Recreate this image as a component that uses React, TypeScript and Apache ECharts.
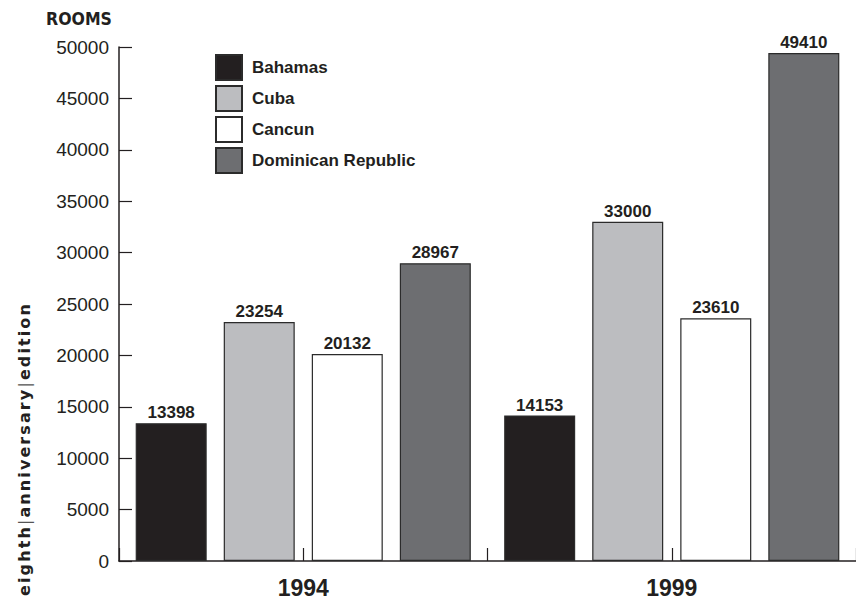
import React, { useEffect, useRef } from "react";
import * as echarts from "echarts";

const years = ["1994", "1999"];
const tickSlots = ["a", "b", "c", "d"];
const bahamas = [13398, 14153];
const cuba = [23254, 33000];
const cancun = [20132, 23610];
const dominican = [28967, 49410];
const seriesNames = ["Bahamas", "Cuba", "Cancun", "Dominican Republic"];
const seriesColors = ["#231f20", "#bcbdc0", "#ffffff", "#6d6e71"];

const INK = "#231f20";
const FONT = '"Liberation Sans", Arial, sans-serif';
const COND = '"DejaVu Sans Condensed", "Liberation Sans", sans-serif';

export default function App() {
  const ref = useRef<HTMLDivElement>(null);

  useEffect(() => {
    if (!ref.current) return;
    const chart = echarts.init(ref.current, null, { renderer: "svg" });
    const values = [bahamas, cuba, cancun, dominican];
    const series = seriesNames.map((name, i) => ({
      name,
      type: "bar",
      xAxisIndex: 0,
      data: values[i],
      barWidth: 71,
      barGap: "24%",
      itemStyle: {
        color: seriesColors[i],
        borderColor: "#2b2b2b",
        borderWidth: 1.2,
      },
      label: {
        show: true,
        position: "top",
        distance: 2,
        color: INK,
        fontFamily: FONT,
        fontWeight: "bold",
        fontSize: 17,
      },
    }));

    chart.setOption({
      animation: false,
      textStyle: { fontFamily: FONT },
      grid: { left: 119, right: 0, top: 47, bottom: 39, containLabel: false },
      title: {
        text: "ROOMS",
        left: 41,
        top: 5,
        textStyle: { fontFamily: COND, fontWeight: "bold", fontSize: 17.5, color: INK },
      },
      legend: {
        orient: "vertical",
        left: 210,
        top: 49,
        itemWidth: 26,
        itemHeight: 25,
        itemGap: 4,
        icon: "rect",
        data: seriesNames,
        textStyle: {
          fontFamily: FONT,
          fontWeight: "bold",
          fontSize: 17,
          color: INK,
          padding: [0, 0, 0, 5],
        },
      },
      xAxis: [
        {
          type: "category",
          data: years,
          axisLine: { show: true, lineStyle: { color: INK, width: 1.5 } },
          axisTick: { show: false },
          axisLabel: {
            margin: 15,
            color: INK,
            fontFamily: FONT,
            fontWeight: "bold",
            fontSize: 23,
          },
        },
        {
          type: "category",
          data: tickSlots,
          position: "bottom",
          axisLine: { show: false },
          axisLabel: { show: false },
          axisTick: {
            show: true,
            inside: true,
            length: 13,
            interval: 0,
            lineStyle: { color: INK, width: 1.2 },
          },
        },
      ],
      yAxis: {
        type: "value",
        min: 0,
        max: 50000,
        interval: 5000,
        splitLine: { show: false },
        axisLine: { show: true, lineStyle: { color: INK, width: 1.5 } },
        axisTick: { show: true, inside: true, length: 13, lineStyle: { color: INK, width: 1.2 } },
        axisLabel: {
          margin: 10,
          color: INK,
          fontFamily: FONT,
          fontSize: 19,
          formatter: (v: number) => String(v),
        },
      },
      series,
    });
    return () => chart.dispose();
  }, []);

  return (
    <div style={{ position: "fixed", left: 0, top: 0, width: 856, height: 600, background: "#fff" }}>
      <div ref={ref} style={{ position: "absolute", left: 0, top: 0, width: 856, height: 600 }} />
      <div
        style={{
          position: "absolute",
          left: 25,
          top: 449,
          transform: "translate(-50%, -50%) rotate(-90deg)",
          whiteSpace: "nowrap",
          fontFamily: '"DejaVu Sans", sans-serif',
          fontWeight: "bold",
          fontSize: 16,
          letterSpacing: "2.1px",
          color: INK,
          lineHeight: "16px",
        }}
      >
        eighth<span style={{ fontWeight: "normal", color: "#555" }}>|</span>anniversary
        <span style={{ fontWeight: "normal", color: "#555" }}>|</span>edition
      </div>
    </div>
  );
}
